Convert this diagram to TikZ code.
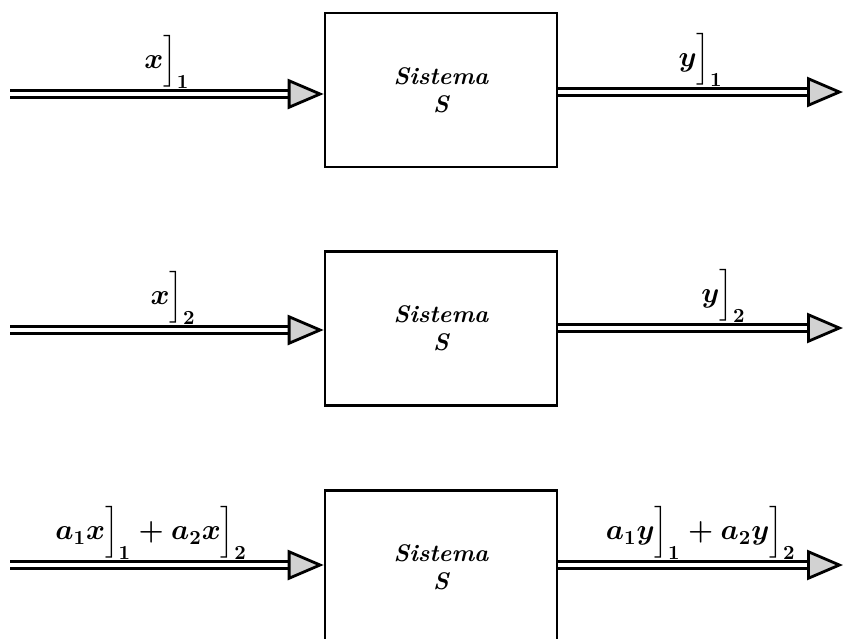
\documentclass[tikz,border=0pt]{standalone}
\usepackage{amsmath}
\usetikzlibrary{arrows.meta,positioning}

\begin{document}
\begin{tikzpicture}[
    x=0.5pt, y=-0.5pt,
    font=\large\bfseries\itshape\boldmath,
    node distance=41pt,
    system/.style={draw=black, line width=1.3pt, minimum width=116pt, minimum height=77pt, align=center, inner sep=0pt},
    signal/.style={draw=black, line width=1.4pt, double=white, double distance=2pt, -{Triangle[length=18pt, width=15pt, fill=gray!35]}},
    lbl/.style={above=1pt, inner sep=1pt, font=\Large\bfseries\itshape\boldmath}
  ]
  \useasboundingbox (0,0) rectangle (846,638);

  % the three copies of the system
  \node[system] (sys1) at (441,90) {Sistema\\S};
  \node[system, below=of sys1] (sys2) {Sistema\\S};
  \node[system, below=of sys2] (sys3) {Sistema\\S};

  % free ends of the signals
  \coordinate (in1) at (10,94);
  \coordinate (in2) at (10,330);
  \coordinate (in3) at (10,565);
  \coordinate (out1) at (843,92);
  \coordinate (out2) at (843,328);
  \coordinate (out3) at (843,565);

  \draw[signal] (in1) -- (in1 -| sys1.west) node[lbl, pos=0.5] {$x\Big]_1$};
  \draw[signal] (out1 -| sys1.east) -- (out1) node[lbl, pos=0.5] {$y\Big]_1$};

  \draw[signal] (in2) -- (in2 -| sys2.west) node[lbl, pos=0.52] {$x\Big]_2$};
  \draw[signal] (out2 -| sys2.east) -- (out2) node[lbl, pos=0.58] {$y\Big]_2$};

  \draw[signal] (in3) -- (in3 -| sys3.west) node[lbl, pos=0.45] {$a_1x\Big]_1 + a_2x\Big]_2$};
  \draw[signal] (out3 -| sys3.east) -- (out3) node[lbl, pos=0.5] {$a_1y\Big]_1 + a_2y\Big]_2$};
\end{tikzpicture}
\end{document}
